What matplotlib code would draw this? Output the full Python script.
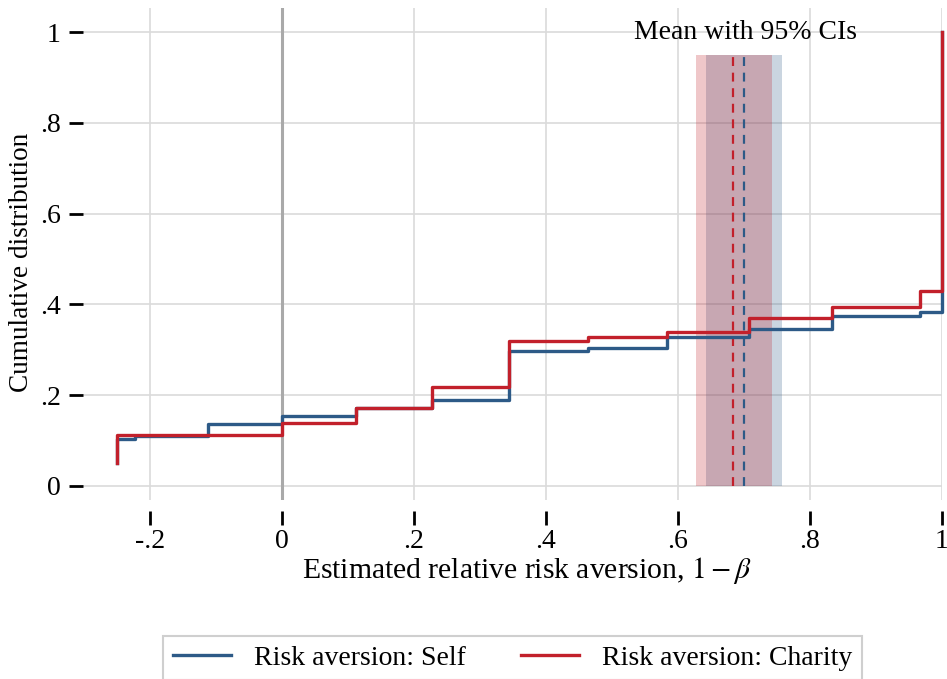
import matplotlib
matplotlib.use("Agg")
import matplotlib.pyplot as plt
from matplotlib.lines import Line2D

# ---- data ----
self_x = [-0.25, -0.25, -0.223, -0.112, 0.0, 0.112, 0.227, 0.344, 0.463, 0.584, 0.707, 0.834, 0.966, 1.0, 1.0]
self_y = [0.051, 0.103, 0.109, 0.136, 0.154, 0.172, 0.189, 0.297, 0.303, 0.329, 0.345, 0.374, 0.384, 0.384, 1.0]
charity_x = [-0.25, -0.25, 0.0, 0.112, 0.227, 0.344, 0.463, 0.584, 0.707, 0.834, 0.966, 1.0, 1.0]
charity_y = [0.051, 0.112, 0.138, 0.172, 0.217, 0.320, 0.329, 0.340, 0.369, 0.395, 0.430, 0.430, 1.0]

self_mean = 0.700
self_ci = (0.642, 0.757)
charity_mean = 0.684
charity_ci = (0.627, 0.742)
ci_top = 0.95

xticks = [-0.2, 0, 0.2, 0.4, 0.6, 0.8, 1.0]
xticklabels = ["-.2", "0", ".2", ".4", ".6", ".8", "1"]
yticks = [0, 0.2, 0.4, 0.6, 0.8, 1.0]
yticklabels = ["0", ".2", ".4", ".6", ".8", "1"]

labels = ["Risk aversion: Self", "Risk aversion: Charity"]
blue = "#2d5a87"
red = "#c2202b"

plt.rcParams["font.family"] = ["Liberation Serif", "DejaVu Serif"]
plt.rcParams["mathtext.fontset"] = "stix"

W, H = 947, 679
fig = plt.figure(figsize=(W / 100, H / 100), dpi=100)
L, R, T, B = 83, 942, 8, 500
ax = fig.add_axes([L / W, (H - B) / H, (R - L) / W, (B - T) / H])

ax.set_xlim(-0.3015, 1.0)
ax.set_ylim(-0.031, 1.053)

for s in ax.spines.values():
    s.set_visible(False)
ax.spines["bottom"].set_position(("outward", 8))

ax.set_xticks(xticks)
ax.set_xticklabels(xticklabels)
ax.set_yticks(yticks)
ax.set_yticklabels(yticklabels)
ax.tick_params(axis="both", direction="out", length=10, width=2, labelsize=20, color="black")
ax.tick_params(axis="x", pad=3)
ax.tick_params(axis="y", pad=6)

ax.grid(True, color="#dadada", linewidth=1.2, zorder=0)
ax.set_axisbelow(True)

ax.axvline(0, color="#a9a9a9", linewidth=2.2, zorder=1)

# CI bands
ax.fill_between(self_ci, 0, ci_top, color=blue, alpha=0.25, linewidth=0, zorder=2)
ax.fill_between(charity_ci, 0, ci_top, color=red, alpha=0.25, linewidth=0, zorder=2)
ax.plot([charity_mean, charity_mean], [0, ci_top], color=red, linestyle=(0, (4, 3)), linewidth=1.6, zorder=3)
ax.plot([self_mean, self_mean], [0, ci_top], color=blue, linestyle=(0, (4, 3)), linewidth=1.6, zorder=3)

ax.plot(self_x, self_y, drawstyle="steps-post", color=blue, linewidth=2.4, zorder=4, clip_on=False)
ax.plot(charity_x, charity_y, drawstyle="steps-post", color=red, linewidth=2.4, zorder=5, clip_on=False)

ax.text(0.702, 0.998, "Mean with 95% CIs", ha="center", va="center", fontsize=20)

fig.text(527 / W, 1 - 570 / H, r"Estimated relative risk aversion, $1-\beta$", ha="center", va="center", fontsize=21.3)
fig.text(22 / W, 1 - 262 / H, "Cumulative distribution", ha="center", va="center", rotation=90, fontsize=19.6)

handles = [Line2D([], [], color=blue, linewidth=2.4), Line2D([], [], color=red, linewidth=2.4)]
leg = fig.legend(handles, labels, loc="center", bbox_to_anchor=(512.5 / W, 1 - 658 / H), ncol=2,
                 fontsize=20, frameon=True, fancybox=False, handlelength=2.1, handletextpad=0.8,
                 columnspacing=2.0, borderpad=0.35)
leg.get_frame().set_edgecolor("#c4c4c4")
leg.get_frame().set_linewidth(1.5)

fig.savefig("out.png", dpi=100, facecolor="white")
